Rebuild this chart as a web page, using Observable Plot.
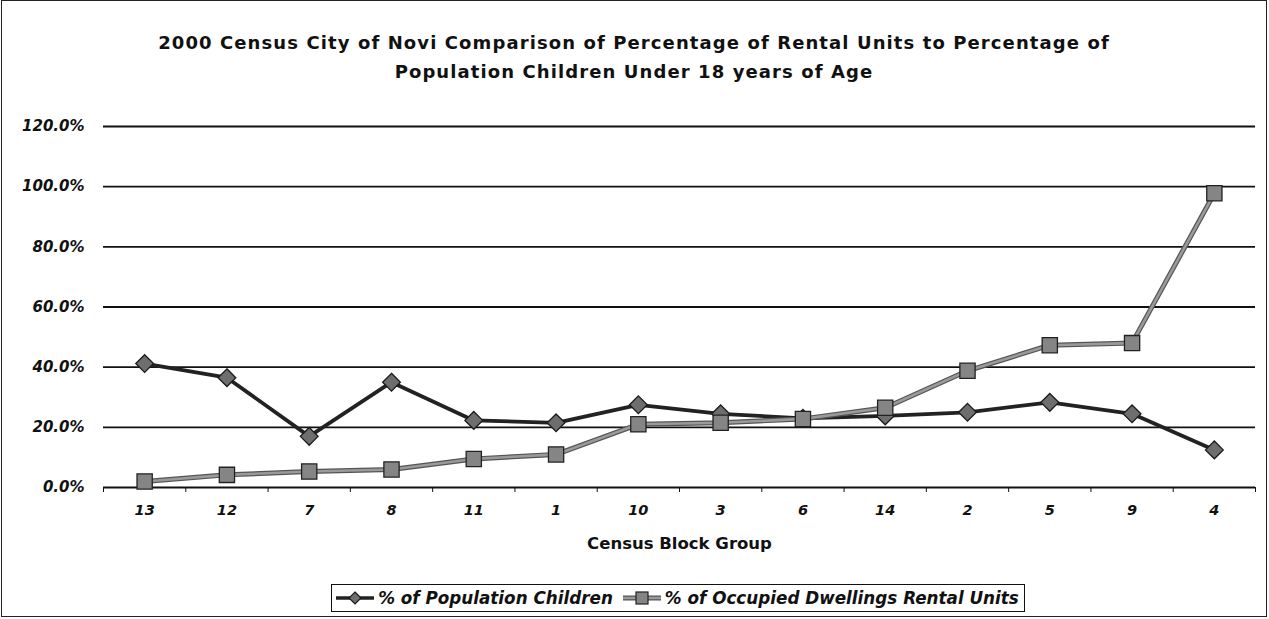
<!DOCTYPE html>
<html>
<head>
<meta charset="utf-8">
<script src="https://cdn.jsdelivr.net/npm/d3@7"></script>
<script src="https://cdn.jsdelivr.net/npm/@observablehq/plot@0.6"></script>
<style>
  html, body { margin: 0; padding: 0; background: #fff; }
  #chart {
    position: relative; width: 1266px; height: 617px; margin: 0 0 0 1px;
    border: 1px solid #222; box-sizing: border-box; background: #fff;
    font-family: "DejaVu Sans", "Liberation Sans", Arial, sans-serif; color: #111;
  }
  #title {
    height: 99px; box-sizing: border-box; padding-top: 27px;
    text-align: center; font-weight: bold; font-size: 18px; line-height: 29px;
    letter-spacing: 1.1px;
  }
  #plot svg { display: block; }
  #legendWrap {
    padding-left: 101px; padding-right: 13px; text-align: center; margin-top: 22px;
  }
  #legend {
    display: inline-flex; align-items: center; gap: 9px; border: 1px solid #111;
    height: 28px; box-sizing: border-box; padding: 0 5px 0 3px;
    font-weight: bold; font-style: italic; font-size: 16.8px;
  }
  .item { display: inline-flex; align-items: center; gap: 3px; }
</style>
</head>
<body>
<div id="chart">
  <div id="title">2000 Census City of Novi Comparison of Percentage of Rental Units to Percentage of<br>Population Children Under 18 years of Age</div>
  <div id="plot"></div>
  <div id="legendWrap"><div id="legend"></div></div>
</div>
<script>
const categories = ["13","12","7","8","11","1","10","3","6","14","2","5","9","4"];
const childrenPct = [41.2, 36.5, 17.0, 35.0, 22.3, 21.5, 27.5, 24.5, 23.0, 23.8, 25.0, 28.3, 24.5, 12.5];
const rentalPct   = [2.0, 4.2, 5.3, 6.0, 9.5, 11.0, 21.0, 21.5, 22.8, 26.5, 38.8, 47.3, 48.0, 97.8];
const yTicks = [0, 20, 40, 60, 80, 100, 120];
const seriesNames = ["% of Population Children", "% of Occupied Dwellings Rental Units"];
const xTitle = "Census Block Group";

const rows = categories.map((c, i) => ({cat: c, i, children: childrenPct[i], rental: rentalPct[i]}));
const boundaries = d3.range(-0.5, categories.length, 1);

const font = {fontWeight: "bold", fontStyle: "italic"};

const chart = Plot.plot({
  width: 1264,
  height: 462,
  marginLeft: 101,
  marginRight: 11,
  marginTop: 26,
  marginBottom: 75,
  style: {fontFamily: "'DejaVu Sans', 'Liberation Sans', Arial, sans-serif", color: "#111", background: "transparent"},
  x: {domain: [-0.5, categories.length - 0.5], axis: null},
  y: {domain: [0, 120], axis: null},
  marks: [
    Plot.ruleY(yTicks.filter(v => v > 0), {stroke: "#111", strokeWidth: 1.8}),
    Plot.ruleY([0], {stroke: "#111", strokeWidth: 1.8}),
    Plot.axisY(yTicks, {tickSize: 0, tickPadding: 19, tickFormat: d => d.toFixed(1) + "%", fontSize: 15, ...font, label: null}),
    Plot.axisX(boundaries, {tickSize: 5, tickFormat: () => "", label: null, stroke: "#111"}),
    Plot.axisX(d3.range(categories.length), {tickSize: 0, tickPadding: 17, tickFormat: i => categories[i], fontSize: 14.5, ...font, label: null}),
    Plot.text([xTitle], {frameAnchor: "bottom", dy: 61, fontSize: 16.5, fontWeight: "bold", fill: "#111"}),
    Plot.line(rows, {x: "i", y: "children", stroke: "#222", strokeWidth: 3.8}),
    Plot.dot(rows, {x: "i", y: "children", symbol: "diamond2", r: 8, fill: "#6e6e6e", stroke: "#1a1a1a", strokeWidth: 1.3}),
    Plot.line(rows, {x: "i", y: "rental", stroke: "#555", strokeWidth: 5}),
    Plot.line(rows, {x: "i", y: "rental", stroke: "#9a9a9a", strokeWidth: 2.6}),
    Plot.dot(rows, {x: "i", y: "rental", symbol: "square", r: 8.6, fill: "#858585", stroke: "#222", strokeWidth: 1.3})
  ]
});
document.getElementById("plot").appendChild(chart);

// legend
const legend = document.getElementById("legend");
const symbols = [
  `<svg width="40" height="16"><line x1="1" y1="8" x2="39" y2="8" stroke="#222" stroke-width="3.5"/><path d="M20 2 L26 8 L20 14 L14 8 Z" fill="#6e6e6e" stroke="#1a1a1a" stroke-width="1.2"/></svg>`,
  `<svg width="40" height="16"><line x1="1" y1="8" x2="39" y2="8" stroke="#555" stroke-width="5"/><line x1="1" y1="8" x2="39" y2="8" stroke="#9a9a9a" stroke-width="2.6"/><rect x="14" y="2" width="12" height="12" fill="#858585" stroke="#222" stroke-width="1.2"/></svg>`
];
seriesNames.forEach((name, k) => {
  const it = document.createElement("span");
  it.className = "item";
  it.innerHTML = symbols[k] + `<span>${name}</span>`;
  legend.appendChild(it);
});
</script>
</body>
</html>
